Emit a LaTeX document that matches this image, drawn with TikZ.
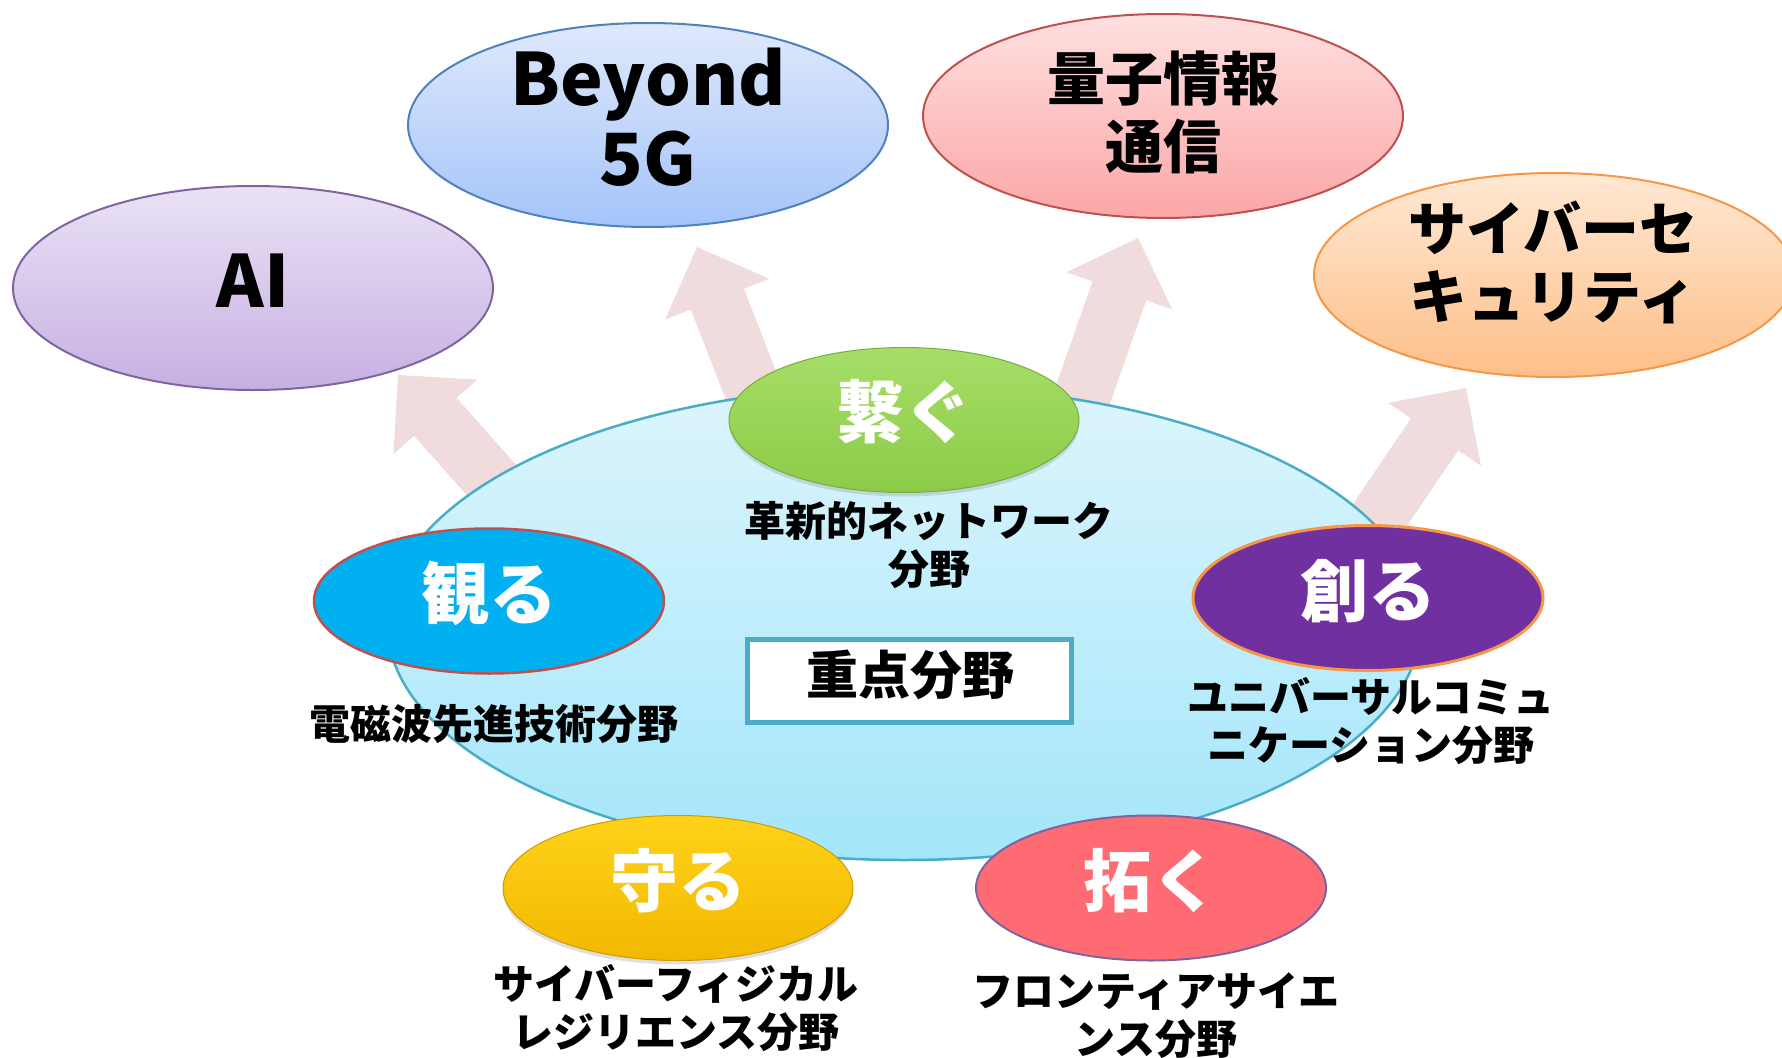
\documentclass[tikz,border=0pt]{standalone}
\usepackage{fontspec}
\setmainfont{Noto Sans CJK JP}
\usetikzlibrary{shapes.geometric,calc,shadows}
\definecolor{arrowpink}{HTML}{F0DCDC}
\definecolor{hubline}{HTML}{4BACC6}
\definecolor{hubtop}{HTML}{DDF5FD}
\definecolor{hubbot}{HTML}{A3E6FA}
\definecolor{aitop}{HTML}{EAE2F6}
\definecolor{aibot}{HTML}{C6B0E2}
\definecolor{ailine}{HTML}{8064A2}
\definecolor{bgtop}{HTML}{DFE9FC}
\definecolor{bgbot}{HTML}{A4C4F9}
\definecolor{bgline}{HTML}{4F81BD}
\definecolor{qtop}{HTML}{FFE0E0}
\definecolor{qbot}{HTML}{FBA6A6}
\definecolor{qline}{HTML}{C0504D}
\definecolor{ctop}{HTML}{FFE8D4}
\definecolor{cbot}{HTML}{FDBF88}
\definecolor{cline}{HTML}{F79646}
\definecolor{grtop}{HTML}{A6DE68}
\definecolor{grbot}{HTML}{8CCB48}
\definecolor{blfill}{HTML}{00B0F0}
\definecolor{pufill}{HTML}{7030A0}
\definecolor{yetop}{HTML}{FFD21A}
\definecolor{yebot}{HTML}{F2B800}
\definecolor{rdfill}{HTML}{FF6B72}
\newcommand{\blockarrow}[2]{%
  \coordinate (bh) at ($(#2)!56pt!(#1)$);
  \fill[arrowpink] ($(#1)!28.5pt!90:(#2)$) -- ($(bh)!28.5pt!90:(#2)$) -- ($(bh)!56pt!90:(#2)$) -- (#2) -- ($(bh)!56pt!-90:(#2)$) -- ($(bh)!28.5pt!-90:(#2)$) -- ($(#1)!28.5pt!-90:(#2)$) -- cycle;}
\begin{document}
\begin{tikzpicture}[x=1pt,y=-1pt,
  outer/.style={ellipse, line width=2pt, minimum width=480pt, minimum height=204pt, inner sep=0pt},
  inner/.style={ellipse, minimum width=350pt, minimum height=145pt, inner sep=0pt},
  bigtxt/.style={font=\fontsize{72pt}{80pt}\selectfont\bfseries, align=center, inner sep=0pt},
  midtxt/.style={font=\fontsize{58pt}{68pt}\selectfont\bfseries, align=center, inner sep=0pt},
  wtxt/.style={font=\fontsize{68pt}{68pt}\selectfont\bfseries, text=white, inner sep=0pt},
  subtxt/.style={font=\fontsize{41pt}{48pt}\selectfont\bfseries, align=center, inner sep=0pt},
  shade/.style={drop shadow={opacity=0.25, shadow xshift=0pt, shadow yshift=-4pt}}
]
\path[use as bounding box] (0,0) rectangle (1782,1057);

% arrows
\coordinate (s1) at (520,512);  \coordinate (t1) at (398,375);
\coordinate (s2) at (766,424);  \coordinate (t2) at (697,247);
\coordinate (s3) at (1075,417); \coordinate (t3) at (1138,238);
\coordinate (s4) at (1365,537); \coordinate (t4) at (1466,388);
\blockarrow{s1}{t1}
\blockarrow{s2}{t2}
\blockarrow{s3}{t3}
\blockarrow{s4}{t4}

% outer goals
\node[outer, draw=ailine, top color=aitop, bottom color=aibot] (ai) at (253,288) {};
\node[outer, draw=bgline, top color=bgtop, bottom color=bgbot] (b5g) at (648,125) {};
\node[outer, draw=qline, top color=qtop, bottom color=qbot] (qic) at (1163,116) {};
\node[outer, draw=cline, top color=ctop, bottom color=cbot] (cyb) at (1554,275) {};
\node[bigtxt] (aitxt) at (253,281) {AI};
\node[bigtxt] (b5gtxt) at (648,117) {Beyond\\5G};
\node[midtxt] (qictxt) at (1163,112) {量子情報\\通信};
\node[midtxt] (cybtxt) at (1553,262) {サイバーセ\\キュリティ};

% hub
\node[ellipse, draw=hubline, line width=2.5pt, top color=hubtop, bottom color=hubbot, minimum width=1034pt, minimum height=474pt, inner sep=0pt] (hub) at (904,623) {};

% key field box
\node[draw=hubline, line width=5pt, fill=white, minimum width=324pt, minimum height=83pt, inner sep=0pt] (box) at (909.5,681) {};
\node[font=\fontsize{52pt}{52pt}\selectfont\bfseries, inner sep=0pt] (boxtxt) at (910,675) {重点分野};

% inner fields
\node[inner, shade, draw=grbot!85!black, line width=1pt, top color=grtop, bottom color=grbot] (tsunagu) at (904,420) {};
\node[inner, draw=qline, line width=2.5pt, fill=blfill] (miru) at (489,601) {};
\node[inner, draw=cline, line width=3pt, fill=pufill] (tsukuru) at (1368,598) {};
\node[inner, shade, draw=yebot!85!black, line width=1pt, top color=yetop, bottom color=yebot] (mamoru) at (678,888) {};
\node[inner, draw=ailine, line width=2pt, fill=rdfill] (hiraku) at (1151,888) {};

\node[wtxt] (tsunagutxt) at (904,412) {繋ぐ};
\node[wtxt] (mirutxt) at (489,593) {観る};
\node[wtxt] (tsukurutxt) at (1368,591) {創る};
\node[wtxt] (mamorutxt) at (678,881) {守る};
\node[wtxt] (hirakutxt) at (1151,881) {拓く};

% sub labels
\node[subtxt] (l1) at (929,545) {革新的ネットワーク\\分野};
\node[subtxt] (l2) at (494,724) {電磁波先進技術分野};
\node[subtxt] (l3) at (1371,721) {ユニバーサルコミュ\\ニケーション分野};
\node[subtxt] (l4) at (676,1008) {サイバーフィジカル\\レジリエンス分野};
\node[subtxt] (l5) at (1156,1016) {フロンティアサイエ\\ンス分野};
\end{tikzpicture}
\end{document}
